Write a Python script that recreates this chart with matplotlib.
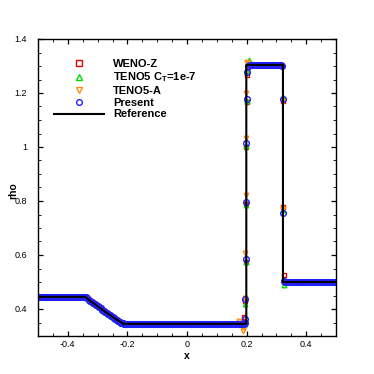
import numpy as np
import matplotlib
matplotlib.use("Agg")
import matplotlib.pyplot as plt
from matplotlib.ticker import MultipleLocator, FuncFormatter

plt.rcParams.update({"font.family": "Liberation Sans", "axes.unicode_minus": False,
                     "mathtext.fontset": "custom", "mathtext.bf": "Liberation Sans:bold",
                     "mathtext.rm": "Liberation Sans"})

# ---- exact solution ----
ref_x = [-0.5, -0.342, -0.32, -0.30, -0.275, -0.25, -0.235, -0.213, 0.199, 0.199, 0.322, 0.322, 0.5]
ref_rho = [0.445, 0.445, 0.426, 0.410, 0.390, 0.371, 0.360, 0.345, 0.345, 1.304, 1.304, 0.500, 0.500]

# ---- smooth regions, common to every scheme ----
x_left = np.linspace(-0.5, 0.19, 139)
rho_left = ([0.445] * 31 +
            [0.445, 0.443, 0.439, 0.434, 0.430, 0.426, 0.422, 0.418, 0.414, 0.410,
             0.406, 0.402, 0.398, 0.394, 0.390, 0.386, 0.382, 0.379, 0.375, 0.371,
             0.367, 0.364, 0.360, 0.357, 0.353, 0.350, 0.347] +
            [0.345] * 81)
x_mid = np.linspace(0.21, 0.315, 22)
rho_mid = [1.305] * 22
x_right = np.linspace(0.33, 0.5, 35)
rho_right = [0.500] * 35

# ---- points across contact and shock, per scheme ----
wenoz_x = [0.190, 0.195, 0.196, 0.197, 0.198, 0.199, 0.200, 0.202, 0.205, 0.318, 0.3215, 0.3225, 0.324, 0.326]
wenoz_rho = [0.372, 0.352, 0.430, 0.575, 0.790, 1.000, 1.165, 1.265, 1.298, 1.300, 1.170, 0.778, 0.525, 0.500]

teno_x = [0.193, 0.195, 0.196, 0.197, 0.198, 0.199, 0.200, 0.203, 0.207, 0.3215, 0.3225, 0.325]
teno_rho = [0.345, 0.352, 0.420, 0.574, 0.785, 1.005, 1.170, 1.280, 1.322, 1.186, 0.766, 0.488]

tenoa_x = [0.170, 0.175, 0.180, 0.184, 0.187, 0.190, 0.193, 0.195, 0.196, 0.197, 0.198, 0.199,
           0.200, 0.201, 0.204, 0.3215, 0.3225, 0.325]
tenoa_rho = [0.350, 0.356, 0.340, 0.333, 0.318, 0.330, 0.338, 0.440, 0.607, 0.822, 1.033, 1.199,
             1.316, 1.310, 1.305, 1.170, 0.770, 0.500]

present_x = [0.193, 0.195, 0.196, 0.197, 0.198, 0.199, 0.200, 0.202, 0.205, 0.318, 0.3215, 0.3225, 0.326]
present_rho = [0.347, 0.364, 0.436, 0.587, 0.796, 1.013, 1.176, 1.277, 1.300, 1.300, 1.176, 0.754, 0.505]

series = [("WENO-Z", wenoz_x, wenoz_rho, "s", "#e60000", 3.5),
          (r"TENO5 C$_{\mathbf{T}}$=1e-7", teno_x, teno_rho, "^", "#00dd00", 3.3),
          ("TENO5-A", tenoa_x, tenoa_rho, "v", "#ff9010", 3.3),
          ("Present", present_x, present_rho, "o", "#2020ff", 4.1)]

fig = plt.figure(figsize=(3.74, 3.74), dpi=100)
ax = fig.add_axes([38 / 374, 38 / 374, 298 / 374, 297 / 374])

for lab, xs, rs, mk, col, ms in series:
    xx = np.concatenate([x_left, xs, x_mid, x_right])
    rr = np.concatenate([rho_left, rs, rho_mid, rho_right])
    order = np.argsort(xx, kind="stable")
    ax.plot(xx[order], rr[order], ls="none", marker=mk, ms=ms, mfc="none", mec=col, mew=1.0, label=lab)
ax.plot(ref_x, ref_rho, color="black", lw=1.5, label="Reference")

ax.set_xlim(-0.5, 0.5); ax.set_ylim(0.3, 1.4)
ax.xaxis.set_major_locator(MultipleLocator(0.2)); ax.xaxis.set_minor_locator(MultipleLocator(0.05))
ax.yaxis.set_major_locator(MultipleLocator(0.2)); ax.yaxis.set_minor_locator(MultipleLocator(0.05))
fmt = FuncFormatter(lambda v, p: "%g" % round(v, 3))
ax.xaxis.set_major_formatter(fmt); ax.yaxis.set_major_formatter(fmt)
ax.tick_params(which="both", direction="in", top=True, right=True, labelsize=6.5)
ax.tick_params(which="major", length=3.6, width=0.9)
ax.tick_params(which="minor", length=2.2, width=0.6)
ax.tick_params(axis="y", pad=8)
ax.tick_params(axis="x", pad=3)
for s in ax.spines.values(): s.set_linewidth(1.0)

ax.set_xlabel("x", fontweight="bold", fontsize=7.5)
ax.set_ylabel("rho", fontweight="bold", fontsize=7.5)
ax.xaxis.set_label_coords(0.5, -0.05)
ax.yaxis.set_label_coords(-0.065, 0.49)

leg = ax.legend(loc="upper left", bbox_to_anchor=(56 / 374 - 0.005, 1 - 59 / 374), bbox_transform=fig.transFigure,
                frameon=False, prop={"weight": "bold", "size": 8}, handlelength=4.5, handletextpad=0.8,
                labelspacing=0.15, borderpad=0, borderaxespad=0, numpoints=1)
for h in leg.legend_handles[:3]:
    h.set_markersize(3.9)

fig.savefig("out.png", dpi=100)
